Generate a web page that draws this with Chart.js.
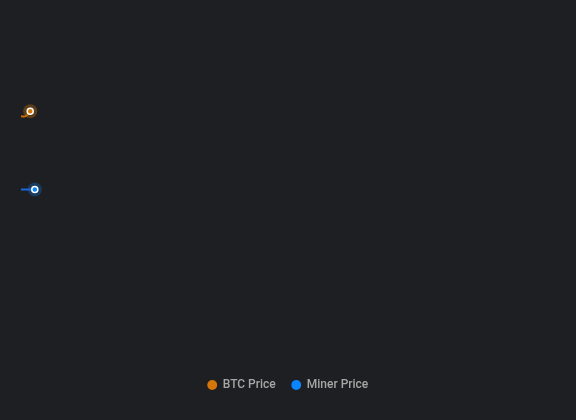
<!DOCTYPE html>
<html>
<head>
<meta charset="utf-8">
<script src="https://cdn.jsdelivr.net/npm/chart.js@4"></script>
<style>
  html, body { margin: 0; padding: 0; background: #1e1f22; }
  #wrap { width: 576px; height: 420px; }
</style>
</head>
<body>
<div id="wrap"><canvas id="priceChart"></canvas></div>
<script>
// minutes since the feed started
const btcTimes = [0, 1, 2];
const btcPrices = [67200, 67200, 67265];
const minerTimes = [0, 1, 2, 3];
const minerPrices = [24.8, 24.8, 24.8, 24.8];

const BTC_COLOR = '#d4760a';
const MINER_COLOR = '#0a84ff';

const toPoints = (xs, ys) => xs.map((x, i) => ({ x: x, y: ys[i] }));

// only the newest point of a series gets a marker
const lastOnly = (size) => (c) => c.dataIndex === c.dataset.data.length - 1 ? size : 0;

// soft glow behind the newest point
const haloPlugin = {
    id: 'halo',
    beforeDatasetsDraw(chart) {
        const g = chart.ctx;
        chart.data.datasets.forEach((ds, i) => {
            const meta = chart.getDatasetMeta(i);
            if (meta.hidden) return;
            const pt = meta.data[meta.data.length - 1];
            if (!pt) return;
            g.save();
            g.beginPath();
            g.arc(pt.x, pt.y, 7, 0, Math.PI * 2);
            g.fillStyle = ds.haloColor;
            g.fill();
            g.restore();
        });
    }
};

const ctx = document.getElementById('priceChart').getContext('2d');
new Chart(ctx, {
    type: 'line',
    data: {
        datasets: [{
            label: 'BTC Price',
            data: toPoints(btcTimes, btcPrices),
            yAxisID: 'yBtc',
            borderColor: '#c96a08',
            backgroundColor: BTC_COLOR,
            haloColor: 'rgba(212,118,10,0.35)',
            borderWidth: 2,
            tension: 0.4,
            pointRadius: lastOnly(3),
            pointBackgroundColor: BTC_COLOR,
            pointBorderColor: '#ffffff',
            pointBorderWidth: 1.5
        }, {
            label: 'Miner Price',
            data: toPoints(minerTimes, minerPrices),
            yAxisID: 'yMiner',
            borderColor: '#1a66dd',
            backgroundColor: MINER_COLOR,
            haloColor: 'rgba(10,132,255,0.28)',
            borderWidth: 2,
            tension: 0.4,
            pointRadius: lastOnly(3),
            pointBackgroundColor: MINER_COLOR,
            pointBorderColor: '#ffffff',
            pointBorderWidth: 1.5
        }]
    },
    options: {
        responsive: true,
        maintainAspectRatio: false,
        animation: false,
        layout: {
            padding: { left: 21, right: 21, top: 16, bottom: 19 }
        },
        scales: {
            x: { type: 'linear', min: 0, max: 116, display: false },
            yBtc: { type: 'linear', position: 'left', min: 64000, max: 68500, display: false },
            yMiner: { type: 'linear', position: 'right', min: 23.8, max: 25.8, display: false }
        },
        plugins: {
            legend: {
                position: 'bottom',
                labels: {
                    usePointStyle: true,
                    pointStyle: 'circle',
                    boxWidth: 9,
                    boxHeight: 7,
                    padding: 16,
                    color: '#a6a6a6',
                    font: { family: 'Roboto', size: 12, weight: '500' },
                    generateLabels(chart) {
                        const items = Chart.defaults.plugins.legend.labels.generateLabels(chart);
                        items.forEach(it => { it.strokeStyle = it.fillStyle; it.lineWidth = 0; });
                        return items;
                    }
                }
            },
            tooltip: { enabled: false }
        }
    },
    plugins: [haloPlugin]
});
</script>
</body>
</html>
